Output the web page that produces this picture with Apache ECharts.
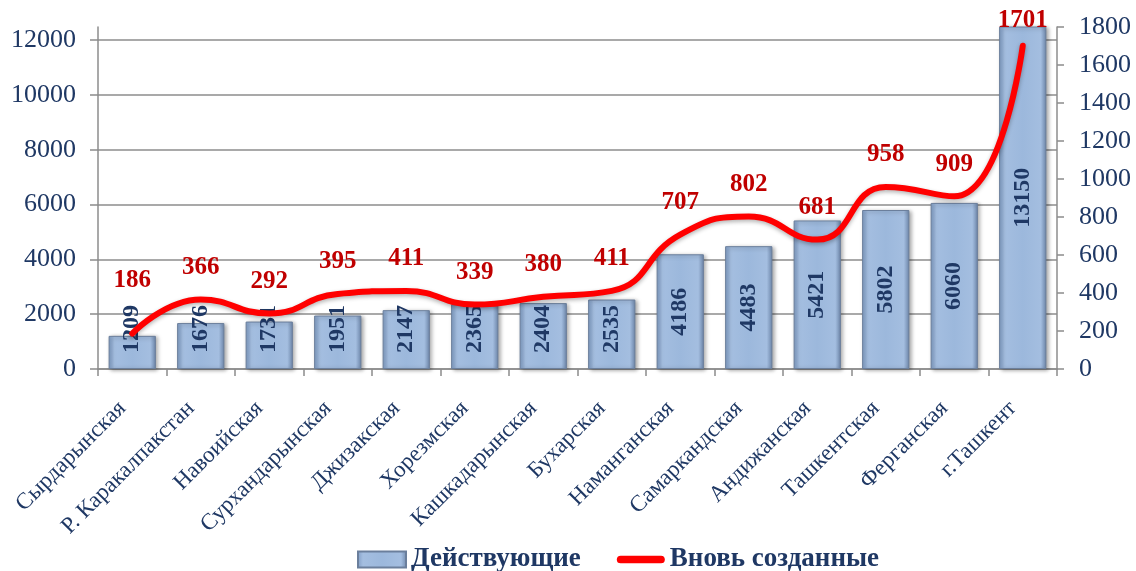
<!DOCTYPE html>
<html><head><meta charset="utf-8">
<script src="https://cdn.jsdelivr.net/npm/echarts@6/dist/echarts.min.js"></script>
<style>html,body{margin:0;padding:0;background:#fff}#c{width:1136px;height:571px}</style>
</head><body><div id="c"></div>
<script>
const categories = ['Сырдарынская','Р. Каракалпакстан','Навоийская','Сурхандарынская','Джизакская','Хорезмская','Кашкадарынская','Бухарская','Наманганская','Самаркандская','Андижанская','Ташкентская','Ферганская','г.Ташкент'];
const active = [1209,1676,1731,1951,2147,2365,2404,2535,4186,4483,5421,5802,6060,13150];
const created = [186,366,292,395,411,339,380,411,707,802,681,958,909,1701];
const leftTicks = [0,2000,4000,6000,8000,10000,12000];
const rightTicks = [0,200,400,600,800,1000,1200,1400,1600,1800];

const navy = '#1F3864';
const font = '"Liberation Serif","Times New Roman",serif';
const barColor = {type:'linear',x:0,y:0,x2:1,y2:0,colorStops:[
  {offset:0,color:'#7F9CC4'},{offset:0.12,color:'#A4BEE0'},{offset:0.5,color:'#9CB8DC'},{offset:0.88,color:'#A4BEE0'},{offset:1,color:'#6E87AB'}]};

const barData = active.map(v => ({
  value: v,
  label: v < 2900 ? {position:'insideBottom', distance:16, align:'left', verticalAlign:'middle'} : {position:'inside'}
}));
const lineData = created.map((v,i) => ({
  value: v,
  label: i === 0 ? {distance:40} : (i === created.length - 1 ? {distance:12} : {})
}));

const chart = echarts.init(document.getElementById('c'));
chart.setOption({
  animation:false,
  grid:{left:98,right:79,top:27,bottom:202},
  legend:{
    left:352, top:541, itemGap:36, itemWidth:48, itemHeight:16,
    textStyle:{fontFamily:font,fontSize:27,fontWeight:'bold',color:navy},
    data:[{name:'Действующие',icon:'rect'},
          {name:'Вновь созданные',icon:'path://M4,0 H46 A4,4 0 0 1 46,8 H4 A4,4 0 0 1 4,0 Z',itemStyle:{color:'#FF0000',opacity:1}}]
  },
  xAxis:{
    type:'category', data:categories,
    axisLine:{lineStyle:{color:'#8C8C8C',width:1.5}},
    axisTick:{show:true,length:7,lineStyle:{color:'#8C8C8C',width:1.5}},
    axisLabel:{rotate:45,interval:0,fontFamily:font,fontSize:23,color:navy,margin:26,padding:[0,14,0,0]}
  },
  yAxis:[{
    type:'value', min:0, max:12480, interval:2000,
    axisLine:{show:true,lineStyle:{color:'#8C8C8C',width:1.5}},
    axisTick:{show:true,length:8,lineStyle:{color:'#8C8C8C',width:1.5}},
    splitLine:{show:true,showMaxLine:false,lineStyle:{color:'#8C8C8C',width:1.5}},
    axisLabel:{showMaxLabel:false,fontFamily:font,fontSize:26,color:navy,margin:22,
      formatter:v => leftTicks.includes(v) ? String(v) : ''}
  },{
    type:'value', min:0, max:1800, interval:200, position:'right',
    axisLine:{show:true,lineStyle:{color:'#8C8C8C',width:1.5}},
    axisTick:{show:true,length:7,lineStyle:{color:'#8C8C8C',width:1.5}},
    splitLine:{show:false},
    axisLabel:{fontFamily:font,fontSize:26,color:navy,margin:22,
      formatter:v => rightTicks.includes(v) ? String(v) : ''}
  }],
  series:[{
    name:'Действующие', type:'bar', yAxisIndex:0, data:barData, barWidth:'69%',
    itemStyle:{color:barColor,borderColor:'#6B7F9C',borderWidth:1,
      shadowColor:'rgba(0,0,0,0.35)',shadowBlur:4,shadowOffsetX:2,shadowOffsetY:1},
    label:{show:true,rotate:90,fontFamily:font,fontSize:24,fontWeight:'bold',color:navy},
    z:2
  },{
    name:'Вновь созданные', type:'line', yAxisIndex:1, data:lineData, smooth:0.5,
    symbol:'circle', symbolSize:1, showSymbol:true,
    lineStyle:{color:'#FF0000',width:6,cap:'round',
      shadowColor:'rgba(0,0,0,0.3)',shadowBlur:4,shadowOffsetY:2},
    itemStyle:{color:'rgba(255,0,0,0)',borderWidth:0},
    label:{show:true,position:'top',distance:19,fontFamily:font,fontSize:25,fontWeight:'bold',color:'#C00000'},
    labelLayout:{hideOverlap:false},
    z:3
  }]
});
</script></body></html>
